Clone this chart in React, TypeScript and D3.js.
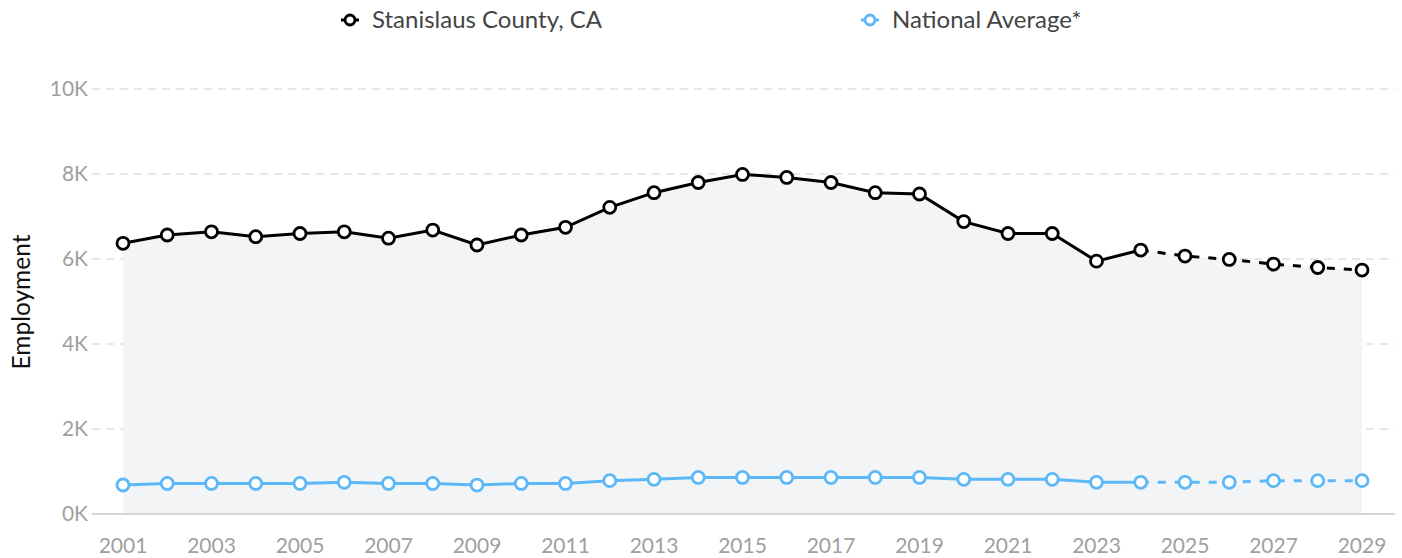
import React, { useEffect, useRef } from 'react';
import * as d3 from 'd3';

const years = d3.range(2001, 2030);
const lastActualYear = 2024;

const countyValues = [
    6370, 6565, 6640, 6525, 6600, 6640, 6490, 6680, 6330, 6565, 6745, 7215, 7560, 7800, 7990,
    7920, 7800, 7560, 7530, 6880, 6600, 6600, 5950, 6210, 6070, 5990, 5880, 5800, 5740,
];
const nationalValues = [
    682, 720, 720, 720, 720, 745, 720, 720, 680, 720, 720, 785, 815, 860, 860,
    860, 860, 860, 860, 815, 815, 815, 745, 745, 745, 745, 785, 785, 785,
];
const yTicks = [0, 2000, 4000, 6000, 8000, 10000];
const xTicks = years.filter((y) => (y - 2001) % 2 === 0);

const seriesNames = ['Stanislaus County, CA', 'National Average*'];
const seriesColors = ['#000000', '#5cb8f7'];

export default function App() {
    const ref = useRef<SVGSVGElement>(null);

    useEffect(() => {
        const svg = d3.select(ref.current);
        svg.selectAll('*').remove();

        const x = d3.scaleLinear().domain([2001, 2029]).range([123, 1362]);
        const y = d3.scaleLinear().domain([0, 10000]).range([514, 89]);
        const font = 'Lato, "Open Sans", sans-serif';

        // gridlines
        svg.append('g')
            .selectAll('line')
            .data(yTicks.filter((t) => t > 0))
            .enter()
            .append('line')
            .attr('x1', 92)
            .attr('x2', 1395)
            .attr('y1', (d) => y(d))
            .attr('y2', (d) => y(d))
            .attr('stroke', '#cfcfcf')
            .attr('stroke-width', 1.2)
            .attr('stroke-dasharray', '8,6');

        // area under county line
        const area = d3
            .area<number>()
            .x((_, i) => x(years[i]))
            .y0(y(0))
            .y1((d) => y(d));
        svg.append('path').datum(countyValues).attr('d', area).attr('fill', '#f3f4f6');

        // baseline
        svg.append('line')
            .attr('x1', 92)
            .attr('x2', 1395)
            .attr('y1', y(0))
            .attr('y2', y(0))
            .attr('stroke', '#c8c8c8')
            .attr('stroke-width', 1.5);

        // y labels
        svg.append('g')
            .selectAll('text')
            .data(yTicks)
            .enter()
            .append('text')
            .attr('x', 88)
            .attr('y', (d) => y(d))
            .attr('dy', '0.35em')
            .attr('text-anchor', 'end')
            .attr('font-family', font)
            .attr('font-size', 21)
            .attr('fill', '#a0a0a0')
            .text((d) => `${d / 1000}K`);

        // x labels
        svg.append('g')
            .selectAll('text')
            .data(xTicks)
            .enter()
            .append('text')
            .attr('x', (d) => x(d))
            .attr('y', 553)
            .attr('text-anchor', 'middle')
            .attr('font-family', font)
            .attr('font-size', 21)
            .attr('fill', '#a0a0a0')
            .text((d) => d);

        svg.append('text')
            .attr('transform', 'translate(30,302) rotate(-90)')
            .attr('text-anchor', 'middle')
            .attr('font-family', font)
            .attr('font-size', 24.5)
            .attr('fill', '#111')
            .text('Employment');

        const line = d3
            .line<number>()
            .x((_, i) => x(years[i]))
            .y((d) => y(d));

        [countyValues, nationalValues].forEach((vals, s) => {
            const split = years.indexOf(lastActualYear);
            const g = svg.append('g');
            g.append('path')
                .datum(vals.slice(0, split + 1))
                .attr('d', (d) => line(d))
                .attr('fill', 'none')
                .attr('stroke', seriesColors[s])
                .attr('stroke-width', 3);
            const proj = d3
                .line<number>()
                .x((_, i) => x(years[i + split]))
                .y((d) => y(d));
            g.append('path')
                .datum(vals.slice(split))
                .attr('d', (d) => proj(d))
                .attr('fill', 'none')
                .attr('stroke', seriesColors[s])
                .attr('stroke-width', 3)
                .attr('stroke-dasharray', '8,9');
            g.selectAll('circle')
                .data(vals)
                .enter()
                .append('circle')
                .attr('cx', (_, i) => x(years[i]))
                .attr('cy', (d) => y(d))
                .attr('r', 6)
                .attr('fill', '#fff')
                .attr('stroke', seriesColors[s])
                .attr('stroke-width', 2.8);
        });

        // legend
        const legendX = [350, 870];
        seriesNames.forEach((name, s) => {
            const g = svg.append('g').attr('transform', `translate(${legendX[s]},20)`);
            g.append('line').attr('x1', -9).attr('x2', 9).attr('stroke', seriesColors[s]).attr('stroke-width', 3);
            g.append('circle')
                .attr('r', 5)
                .attr('fill', '#fff')
                .attr('stroke', seriesColors[s])
                .attr('stroke-width', 2.8);
            g.append('text')
                .attr('x', 22)
                .attr('dy', '0.35em')
                .attr('font-family', font)
                .attr('font-size', 24)
                .attr('fill', '#444')
                .text(name);
        });
    }, []);

    return (
        <svg
            ref={ref}
            width={1402}
            height={558}
            style={{ position: 'absolute', left: 0, top: 0, display: 'block' }}
        />
    );
}
